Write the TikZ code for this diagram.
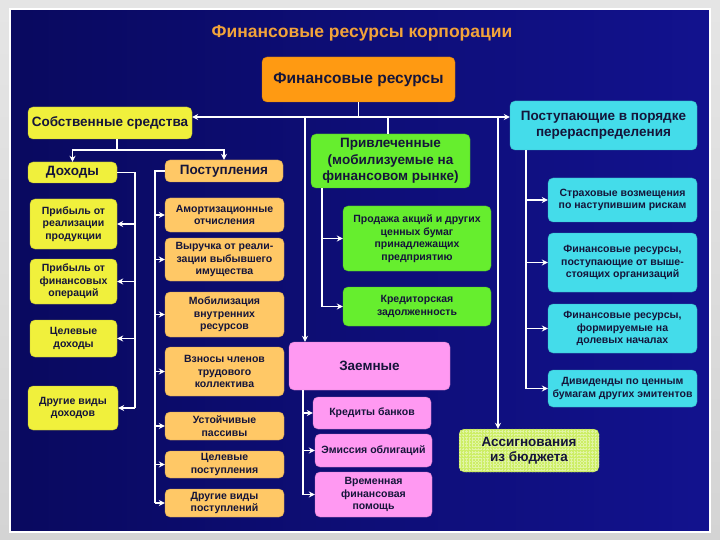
\documentclass[tikz,border=0pt]{standalone}
\usepackage{fontspec}
\setmainfont{Liberation Sans}
\usetikzlibrary{arrows.meta}
\definecolor{navyA}{HTML}{09095F}
\definecolor{navyB}{HTML}{12128E}
\definecolor{outer}{HTML}{D4D4D4}
\definecolor{titlec}{HTML}{F2A33A}
\definecolor{txt}{HTML}{15153A}
\definecolor{obig}{HTML}{FF9A12}
\definecolor{ybox}{HTML}{F0F03C}
\definecolor{obox}{HTML}{FFC866}
\definecolor{gbox}{HTML}{66EE2E}
\definecolor{cbox}{HTML}{44DCEA}
\definecolor{pbox}{HTML}{FF99F2}
\definecolor{abox}{HTML}{CDEE66}
\tikzset{
  box/.style={rounded corners=5pt, align=center, inner sep=1pt, text=txt,
    font=\bfseries\fontsize{10.5}{12.5}\selectfont},
  big/.style={font=\bfseries\fontsize{13.5}{15.5}\selectfont},
  yb/.style={box, fill=ybox, draw=ybox!80!black, line width=0.4pt},
  ob/.style={box, fill=obox, draw=obox!80!black, line width=0.4pt},
  gb/.style={box, fill=gbox, draw=gbox!80!black, line width=0.4pt},
  cb/.style={box, fill=cbox, draw=cbox!80!black, line width=0.4pt},
  pb/.style={box, fill=pbox, draw=pbox!80!black, line width=0.4pt},
  wl/.style={draw=white, line width=1.7pt},
  arrw/.style={draw=white, line width=1.7pt, -{Stealth[length=6pt,width=6pt]}},
}
\begin{document}
\begin{tikzpicture}[x=1pt,y=-1pt]
\useasboundingbox (0,0) rectangle (720,540);
\fill[top color=outer!60!white, bottom color=outer] (0,0) rectangle (720,540);
\shade[left color=navyA, right color=navyB] (10,9) rectangle (710,532);
\draw[white, line width=1.5pt] (10,9) rectangle (710,532);

\node[text=titlec, font=\bfseries\fontsize{17.5}{20}\selectfont] (title) at (362,33) {Финансовые ресурсы корпорации};

\node[box, fill=obig, draw=obig!80!black, minimum width=193pt, minimum height=45pt, font=\bfseries\fontsize{15.5}{18}\selectfont] (fr) at (358.5,79.5) {Финансовые ресурсы};

\node[yb, big, minimum width=164pt, minimum height=32pt] (ss) at (110,123) {Собственные средства};
\node[cb, big, minimum width=187pt, minimum height=49pt] (pp) at (603.5,125.5) {Поступающие в порядке\\перераспределения};
\node[gb, big, minimum width=159pt, minimum height=54pt, font=\bfseries\fontsize{13.5}{16.5}\selectfont] (pr) at (390.5,161) {Привлеченные\\(мобилизуемые на\\финансовом рынке)};

\node[yb, big, minimum width=89pt, minimum height=21pt] (doh) at (72.5,172.5) {Доходы};
\node[ob, big, minimum width=118pt, minimum height=22pt] (post) at (224,171) {Поступления};

% yellow column
\node[yb, minimum width=87pt, minimum height=50pt] (y1) at (73.5,224) {Прибыль от\\реализации\\продукции};
\node[yb, minimum width=87pt, minimum height=45pt] (y2) at (73.5,281.5) {Прибыль от\\финансовых\\операций};
\node[yb, minimum width=87pt, minimum height=37pt] (y3) at (73.5,338.5) {Целевые\\доходы};
\node[yb, minimum width=90pt, minimum height=44pt] (y4) at (73,408) {Другие виды\\доходов};

% orange column
\node[ob, minimum width=119pt, minimum height=34pt] (o1) at (224.5,215) {Амортизационные\\отчисления};
\node[ob, minimum width=119pt, minimum height=43pt] (o2) at (224.5,259.5) {Выручка от реали-\\зации выбывшего\\имущества};
\node[ob, minimum width=119pt, minimum height=45pt] (o3) at (224.5,314.5) {Мобилизация\\внутренних\\ресурсов};
\node[ob, minimum width=119pt, minimum height=49pt] (o4) at (224.5,371.5) {Взносы членов\\трудового\\коллектива};
\node[ob, minimum width=119pt, minimum height=28pt] (o5) at (224.5,426) {Устойчивые\\пассивы};
\node[ob, minimum width=119pt, minimum height=27pt] (o6) at (224.5,464.5) {Целевые\\поступления};
\node[ob, minimum width=119pt, minimum height=28pt] (o7) at (224.5,503) {Другие виды\\поступлений};

% green
\node[gb, minimum width=148pt, minimum height=65pt] (g1) at (417,238.5) {Продажа акций и других\\ценных бумаг\\принадлежащих\\предприятию};
\node[gb, minimum width=148pt, minimum height=39pt] (g2) at (417,306.5) {Кредиторская\\задолженность};

% pink
\node[pb, big, minimum width=161pt, minimum height=48pt] (zaem) at (369.5,366) {Заемные};
\node[pb, minimum width=118pt, minimum height=32pt] (p1) at (372,413) {Кредиты банков};
\node[pb, minimum width=117pt, minimum height=33pt] (p2) at (373.5,450.5) {Эмиссия облигаций};
\node[pb, minimum width=117pt, minimum height=45pt] (p3) at (373.5,494.5) {Временная\\финансовая\\помощь};

% cyan column
\node[cb, minimum width=149pt, minimum height=44pt] (c1) at (622.5,200) {Страховые возмещения\\по наступившим рискам};
\node[cb, minimum width=149pt, minimum height=59pt] (c2) at (622.5,262.5) {Финансовые ресурсы,\\поступающие от выше-\\стоящих организаций};
\node[cb, minimum width=149pt, minimum height=49pt] (c3) at (622.5,328.5) {Финансовые ресурсы,\\формируемые на\\долевых началах};
\node[cb, minimum width=149pt, minimum height=37pt] (c4) at (622.5,388.5) {Дивиденды по ценным\\бумагам других эмитентов};

% assignments
\node[box, big, fill=abox, draw=abox!70!black, densely dotted, minimum width=140pt, minimum height=43pt,
  path picture={\draw[abox!60!white, line width=0.3pt, step=3pt] (path picture bounding box.south west) grid (path picture bounding box.north east);}] (as) at (529,450.5) {Ассигнования\\из бюджета};

% connectors
\coordinate (bus) at (0,117);
\coordinate (vz) at (305,117);
\coordinate (va) at (498,117);
\draw[wl] (fr.south) -- (fr.south|-bus);
\draw[arrw] (fr.south|-bus) -- (ss.east|-bus);
\draw[arrw] (fr.south|-bus) -- (pp.west|-bus);
\draw[wl] (pr.north-|388,0) -- (388,117);
\draw[arrw] (vz) -- (vz|-zaem.north);
\draw[arrw] (va) -- (va|-as.north);

\coordinate (sb) at (117,150);
\draw[wl] (ss.south-|sb) -- (sb);
\draw[arrw] (sb) -| (doh.north);
\draw[arrw] (sb) -| (post.north);

\coordinate (dl) at (135,0);
\draw[wl] (doh.east) -| (dl|-y4.east);
\foreach \n in {y1,y2,y3,y4} \draw[arrw] (dl|-\n.east) -- (\n.east);

\coordinate (pl) at (155,0);
\draw[wl] (post.west) -| (pl|-o7.west);
\foreach \n in {o1,o2,o3,o4,o5,o6,o7} \draw[arrw] (pl|-\n.west) -- (\n.west);

\coordinate (gl) at (322,0);
\draw[wl] (pr.south-|gl) -- (gl|-g2.west);
\foreach \n in {g1,g2} \draw[arrw] (gl|-\n.west) -- (\n.west);

\coordinate (zl) at (303,0);
\draw[wl] (zaem.south-|zl) -- (zl|-p3.west);
\foreach \n in {p1,p2,p3} \draw[arrw] (zl|-\n.west) -- (\n.west);

\coordinate (cl) at (526,0);
\draw[wl] (pp.south-|cl) -- (cl|-c4.west);
\foreach \n in {c1,c2,c3,c4} \draw[arrw] (cl|-\n.west) -- (\n.west);
\end{tikzpicture}
\end{document}
